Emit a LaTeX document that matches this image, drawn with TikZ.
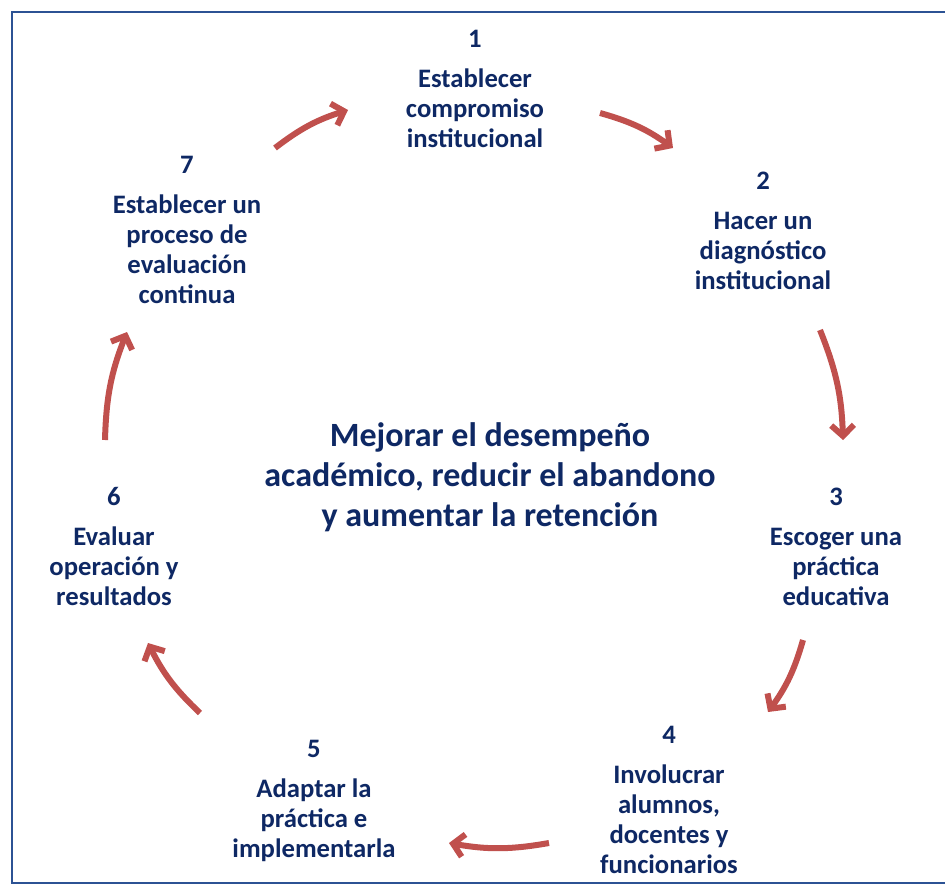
\documentclass[tikz,border=0pt]{standalone}
\usepackage{fontspec}
\setmainfont{Carlito}
\usetikzlibrary{arrows.meta,positioning}
\definecolor{azul}{RGB}{14,40,100}
\definecolor{marco}{RGB}{44,82,148}
\definecolor{rojo}{RGB}{192,80,77}
\begin{document}
\begin{tikzpicture}[x=0.75pt,y=-0.75pt,
  paso/.style={align=center,text=azul,inner sep=0pt,font=\bfseries\fontsize{20}{22.5}\selectfont},
  flecha/.style={rojo,line width=4.5pt,-{Straight Barb[length=8pt,width=17pt]}}]
  \useasboundingbox (0,0) rectangle (945,888);
  % marco
  \draw[marco,line width=2.2pt] (960,12)--(12,12)--(12,883)--(960,883);
  % pasos
  \node[paso] (p1) at (475,89) {1\\[7.5pt]Establecer\\compromiso\\institucional};
  \node[paso] (p2) at (763,231) {2\\[7.5pt]Hacer un\\diagnóstico\\institucional};
  \node[paso] (p3) at (836,547) {3\\[7.5pt]Escoger una\\práctica\\educativa};
  \node[paso] (p4) at (669,800) {4\\[7.5pt]Involucrar\\alumnos,\\docentes y\\funcionarios};
  \node[paso] (p5) at (314,801) {5\\[7.5pt]Adaptar la\\práctica e\\implementarla};
  \node[paso] (p6) at (114,546) {6\\[7.5pt]Evaluar\\operación y\\resultados};
  \node[paso] (p7) at (187,230) {7\\[7.5pt]Establecer un\\proceso de\\evaluación\\continua};
  % objetivo central
  \node[paso,font=\bfseries\fontsize{25.5}{30}\selectfont] (meta) at (490,477)
    {Mejorar el desempeño\\académico, reducir el abandono\\y aumentar la retención};
  % extremos de las flechas
  \coordinate (a1) at (600,113); \coordinate (b1) at (673,148);
  \coordinate (a2) at (820,330); \coordinate (b2) at (843,440);
  \coordinate (a3) at (803,640); \coordinate (b3) at (768,712);
  \coordinate (a4) at (549,843); \coordinate (b4) at (449,843);
  \coordinate (a5) at (200,713); \coordinate (b5) at (148,643);
  \coordinate (a6) at (105,440); \coordinate (b6) at (127,332);
  \coordinate (a7) at (275,148); \coordinate (b7) at (348,110);
  % flechas del ciclo
  \foreach \i in {1,...,7} \draw[flecha] (a\i) to[bend left=10] (b\i);
\end{tikzpicture}
\end{document}
